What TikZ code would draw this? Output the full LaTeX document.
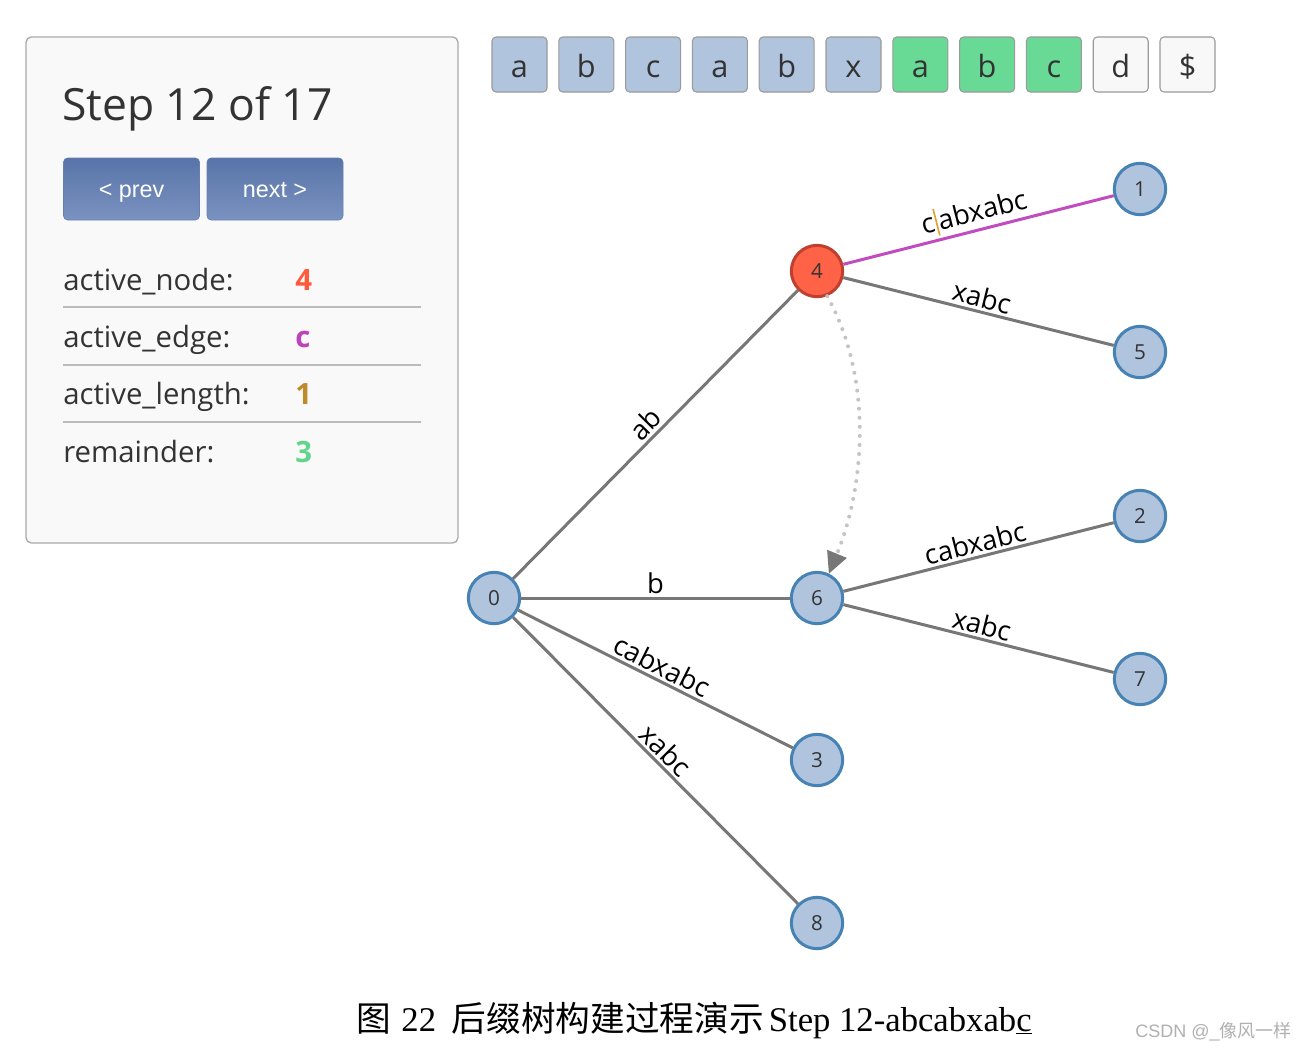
\documentclass[tikz,border=0pt]{standalone}
\usepackage{fontspec}
\setmainfont{Open Sans}
\newfontfamily\arialf{Liberation Sans}
\newfontfamily\timesf{Liberation Serif}
\newfontfamily\cjk{Noto Sans CJK SC}
\usetikzlibrary{arrows.meta}
\definecolor{nodeblue}{HTML}{B0C4DE}
\definecolor{nodeborder}{HTML}{4682B4}
\definecolor{redfill}{HTML}{FF6347}
\definecolor{redborder}{HTML}{C0402F}
\definecolor{edgegray}{HTML}{777777}
\definecolor{purp}{HTML}{C04CC0}
\definecolor{boxgreen}{HTML}{68DA96}
\definecolor{boxwhite}{HTML}{F8F8F8}
\definecolor{boxborder}{HTML}{9A9A9A}
\definecolor{orangebar}{HTML}{E0A030}
\definecolor{valred}{HTML}{FF5A3C}
\definecolor{valpurp}{HTML}{BB44BB}
\definecolor{valgold}{HTML}{C08A2A}
\definecolor{valgreen}{HTML}{5FD68C}
\definecolor{textdark}{HTML}{333333}
\definecolor{panelbg}{HTML}{F9F9F9}
\definecolor{panelborder}{HTML}{AAAAAA}
\definecolor{sepgray}{HTML}{BBBBBB}
\definecolor{btntop}{HTML}{5874A8}
\definecolor{btnbot}{HTML}{7A92C0}
\definecolor{dotgray}{HTML}{C4C4C4}
\definecolor{wmgray}{HTML}{B0B0B0}
\begin{document}
\begin{tikzpicture}[x=0.75pt,y=-0.75pt,
  treenode/.style={circle, draw=nodeborder, line width=2.25pt, fill=nodeblue,
    minimum size=38.5pt, inner sep=0pt, text=textdark, font=\fontsize{15.5}{15.5}\selectfont},
  activenode/.style={treenode, fill=redfill, draw=redborder},
  treeedge/.style={draw=edgegray, line width=2.25pt},
  activeedge/.style={draw=purp, line width=2.25pt},
  elabel/.style={midway, sloped, above, inner sep=2pt, text=black, font=\fontsize{20.5}{20.5}\selectfont},
  charbox/.style={draw=boxborder, line width=0.8pt, rounded corners=3pt,
    minimum width=41.25pt, minimum height=41.25pt, inner sep=0pt, text=textdark,
    text height=18.8pt, text depth=0pt, font=\fontsize{23}{23}\selectfont},
  btn/.style={rounded corners=3pt, top color=btntop, bottom color=btnbot, draw=btntop!60!btnbot,
    line width=0.4pt, minimum width=102pt, minimum height=46.5pt, inner sep=0pt,
    text height=12pt, text depth=0pt,
    text=white, font=\arialf\fontsize{17.5}{17.5}\selectfont},
  plabel/.style={anchor=base west, inner sep=0pt, text=textdark, font=\fontsize{22}{22}\selectfont},
  pvalue/.style={anchor=base west, inner sep=0pt, font=\bfseries\fontsize{22}{22}\selectfont},
  sepline/.style={draw=sepgray, line width=1.3pt},
  linkarrow/.style={draw=dotgray, line width=3pt, line cap=round, dash pattern=on 0pt off 6.8pt,
    -{Triangle[length=16pt,width=16pt,fill=edgegray,line width=0pt]}}
]
\useasboundingbox (0,0) rectangle (1308,1050);
\fill[white] (0,0) rectangle (1308,1050);

% ---- panel ----
\draw[fill=panelbg, draw=panelborder, line width=1pt, rounded corners=4pt] (26,37) rectangle (458,543);
\node[anchor=base west, inner sep=0pt, text=textdark, font=\fontsize{33.3}{33.3}\selectfont] (title) at (62,120) {Step 12 of 17};
\node[btn] (prev) at (131.5,189) {< prev};
\node[btn] (next) at (275,189) {next >};
\node[plabel] (l1) at (63,290) {active\_node:};
\node[plabel] (l2) at (63,347) {active\_edge:};
\node[plabel] (l3) at (63,404) {active\_length:};
\node[plabel] (l4) at (63,462) {remainder:};
\node[pvalue, text=valred] (v1) at (295,290) {4};
\node[pvalue, text=valpurp] (v2) at (295,347) {c};
\node[pvalue, text=valgold] (v3) at (295,404) {1};
\node[pvalue, text=valgreen] (v4) at (295,462) {3};
\draw[sepline] (63,307) -- (421,307);
\draw[sepline] (63,365) -- (421,365);
\draw[sepline] (63,422) -- (421,422);

% ---- character boxes ----
\foreach \ch/\col [count=\i from 0] in {a/nodeblue,b/nodeblue,c/nodeblue,a/nodeblue,b/nodeblue,x/nodeblue,a/boxgreen,b/boxgreen,c/boxgreen,d/boxwhite,\$/boxwhite}{
  \node[charbox, fill=\col] (box\i) at ({519.5+66.8*\i},64.5) {\ch};
}

% ---- tree nodes ----
\node[treenode] (n0) at (494,598) {0};
\node[activenode] (n4) at (817,271) {4};
\node[treenode] (n1) at (1140,189) {1};
\node[treenode] (n5) at (1140,352) {5};
\node[treenode] (n6) at (817,598) {6};
\node[treenode] (n2) at (1140,516) {2};
\node[treenode] (n7) at (1140,679) {7};
\node[treenode] (n3) at (817,760) {3};
\node[treenode] (n8) at (817,923) {8};

% ---- edges ----
\draw[treeedge] (n0) -- node[elabel] {ab} (n4);
\draw[treeedge] (n0) -- node[elabel] {b} (n6);
\draw[treeedge] (n0) -- node[elabel] {cabxabc} (n3);
\draw[treeedge] (n0) -- node[elabel] {xabc} (n8);
\draw[activeedge] (n4) -- node[elabel] {c\hspace{1pt}\textcolor{orangebar}{\rule[-0.18em]{1.2pt}{1.0em}}\hspace{1pt}abxabc} (n1);
\draw[treeedge] (n4) -- node[elabel] {xabc} (n5);
\draw[treeedge] (n6) -- node[elabel] {cabxabc} (n2);
\draw[treeedge] (n6) -- node[elabel] {xabc} (n7);

% ---- suffix link ----
\draw[linkarrow] (n4.-68) .. controls (874,380) and (864,488) .. (n6.64);

% ---- caption ----
\node[anchor=base, inner sep=0pt, text=black, font=\fontsize{26}{26}\selectfont] (caption) at (694,1031)
  {{\cjk 图}\hspace{0.3em}{\timesf 22}\hspace{0.45em}{\cjk 后缀树构建过程演示}\hspace{0.15em}{\timesf Step 12-abcabxab\underline{c}}};
\node[anchor=base east, inner sep=0pt, text=wmgray, font=\fontsize{13.5}{13.5}\selectfont] (wm) at (1292,1037)
  {{\arialf CSDN @\_}{\cjk 像风一样}};
\end{tikzpicture}
\end{document}
